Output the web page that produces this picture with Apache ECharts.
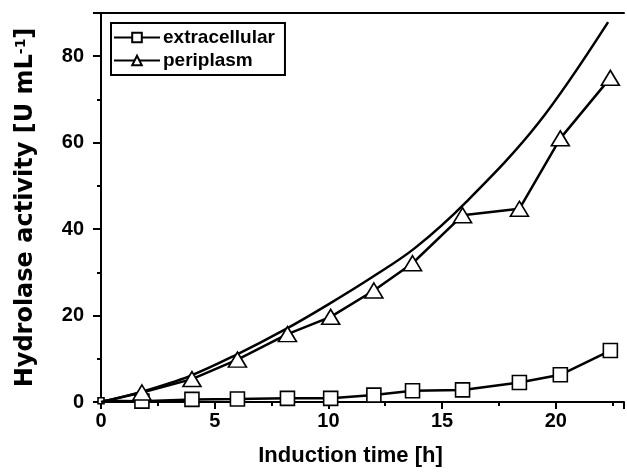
<!DOCTYPE html>
<html>
<head>
<meta charset="utf-8">
<script src="https://cdn.jsdelivr.net/npm/echarts@6/dist/echarts.min.js"></script>
<style>
html,body{margin:0;padding:0;background:#fff;}
#chart{width:627px;height:474px;}
</style>
</head>
<body>
<div id="chart"></div>
<script>
// Data
var timeExtra = [0, 1.8, 4.0, 6.0, 8.2, 10.1, 12.0, 13.7, 15.9, 18.4, 20.2, 22.4];
var extracellular = [0.3, 0.2, 0.6, 0.7, 0.85, 0.85, 1.6, 2.6, 2.8, 4.5, 6.3, 11.9];

var timePeri = [0, 1.8, 4.0, 6.0, 8.2, 10.1, 12.0, 13.7, 15.9, 18.4, 20.2, 22.4];
var periplasm = [0, 2.2, 5.3, 9.8, 15.7, 19.7, 25.8, 32.1, 43.2, 44.7, 61.0, 75.0];

var fitTime = [0, 1.8, 3.9, 5.9, 8.1, 10.0, 11.9, 13.8, 16.1, 19.2, 22.3];
var fitValue = [0, 2.4, 6.0, 10.8, 16.8, 22.6, 28.8, 35.6, 46.5, 64.3, 87.9];

var xTicks = [0, 5, 10, 15, 20];
var yTicks = [0, 20, 40, 60, 80];

function pairs(xs, ys) { return xs.map(function (x, i) { return [x, ys[i]]; }); }

var FONT = '"Liberation Sans", Arial, sans-serif';
var WIDE = '"DejaVu Sans", "Liberation Sans", sans-serif';
var chart = echarts.init(document.getElementById('chart'), null, {renderer: 'canvas'});
chart.setOption({
  backgroundColor: '#fff',
  animation: false,
  grid: {left: 101, right: 0, top: 13, bottom: 72, containLabel: false},
  legend: {
    left: 111, top: 23, orient: 'vertical',
    data: ['extracellular', 'periplasm'],
    borderColor: '#000', borderWidth: 2, borderRadius: 0,
    padding: [5, 10, 5, 2], itemGap: 4,
    itemWidth: 46, itemHeight: 12,
    textStyle: {fontFamily: FONT, fontWeight: 'bold', fontSize: 19, color: '#000', padding: [0, 0, 0, -2]}
  },
  xAxis: [{
    type: 'value', min: 0, max: 23, interval: 5,
    name: 'Induction time [h]', nameLocation: 'middle', nameGap: 43,
    nameTextStyle: {fontFamily: FONT, fontWeight: 'bold', fontSize: 22, color: '#000', padding: [0, 24, 0, 0]},
    axisLine: {show: true, onZero: false, lineStyle: {color: '#000', width: 2}},
    axisTick: {show: true, inside: false, length: 7, lineStyle: {color: '#000', width: 2}},
    minorTick: {show: true, splitNumber: 2, length: 4, lineStyle: {color: '#000', width: 2}},
    axisLabel: {fontFamily: FONT, fontWeight: 'bold', fontSize: 20, color: '#000', margin: 9,
      formatter: function (v) { return xTicks.indexOf(v) >= 0 ? String(v) : ''; }},
    splitLine: {show: false}
  }, {
    type: 'value', position: 'top', min: 0, max: 23, interval: 5,
    axisLine: {show: true, onZero: false, lineStyle: {color: '#000', width: 2}},
    axisTick: {show: false}, axisLabel: {show: false}, splitLine: {show: false}
  }],
  yAxis: {
    type: 'value', min: 0, max: 90, interval: 20,
    name: '{a|Hydrolase activity [U mL}{s|-1}{a|]}', nameLocation: 'middle', nameGap: 63,
    nameTextStyle: {
      rich: {
        a: {fontFamily: WIDE, fontWeight: 'bold', fontSize: 24, color: '#000'},
        s: {fontFamily: WIDE, fontWeight: 'bold', fontSize: 14, color: '#000', verticalAlign: 'top', padding: [0, 0, 10, 0]}
      }
    },
    axisLine: {show: true, onZero: false, lineStyle: {color: '#000', width: 2}},
    axisTick: {show: true, inside: false, length: 8, lineStyle: {color: '#000', width: 2}},
    minorTick: {show: true, splitNumber: 2, length: 4, lineStyle: {color: '#000', width: 2}},
    axisLabel: {fontFamily: FONT, fontWeight: 'bold', fontSize: 20, color: '#000', margin: 17,
      formatter: function (v) { return yTicks.indexOf(v) >= 0 ? String(v) : ''; }},
    splitLine: {show: false}
  },
  series: [{
    name: 'fit', type: 'line', smooth: 0.35, showSymbol: false, symbol: 'none',
    data: pairs(fitTime, fitValue), z: 2,
    lineStyle: {color: '#000', width: 2.5}
  }, {
    name: 'extracellular', type: 'line',
    data: pairs(timeExtra, extracellular), z: 3,
    symbol: 'rect', symbolSize: function (v) { return v[0] === 0 ? 6 : 14; },
    lineStyle: {color: '#000', width: 2.5},
    itemStyle: {color: '#fff', borderColor: '#000', borderWidth: 1.6}
  }, {
    name: 'periplasm', type: 'line',
    data: pairs(timePeri, periplasm), z: 4,
    symbol: 'triangle', symbolSize: function (v) { return v[0] === 0 ? 0 : [18, 15]; },
    lineStyle: {color: '#000', width: 2.5},
    itemStyle: {color: '#fff', borderColor: '#000', borderWidth: 1.6}
  }]
});
</script>
</body>
</html>
